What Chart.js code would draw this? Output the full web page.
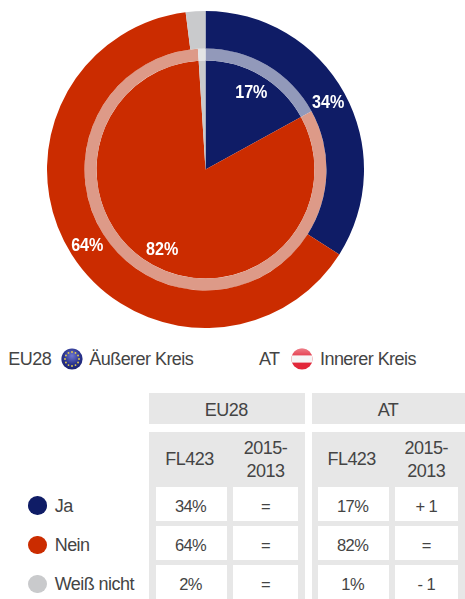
<!DOCTYPE html>
<html lang="de"><head><meta charset="utf-8">
<script src="https://cdn.jsdelivr.net/npm/chart.js@4"></script>
<style>
html,body{margin:0;padding:0;background:#fff}
body{position:relative;width:465px;height:599px;overflow:hidden;font-family:"Liberation Sans",Arial,sans-serif;color:#444;-webkit-font-smoothing:antialiased}
.t{position:absolute;white-space:nowrap;font-size:18px;letter-spacing:-.55px;line-height:22px;transform:translateY(-50%)}
.c{text-align:center;transform:translate(-50%,-50%)}
.b{position:absolute}
.p{background:#e7e7e7}.w{background:#fff}
.v{font-size:16.5px;letter-spacing:-.6px}
#wrap{position:absolute;left:47px;top:11px;width:317px;height:317px}
svg{position:absolute}
</style></head><body>
<div id="wrap"><canvas id="c" width="317" height="317"></canvas></div>
<svg style="left:60px;top:347px" width="24" height="24" viewBox="-12 -12 24 24">
<defs><radialGradient id="eu" cx="50%" cy="35%" r="65%"><stop offset="0" stop-color="#6f78cf"/><stop offset=".6" stop-color="#2a348f"/><stop offset="1" stop-color="#1a2270"/></radialGradient>
<linearGradient id="gl" x1="0" y1="0" x2="0" y2="1"><stop offset="0" stop-color="#fff" stop-opacity=".45"/><stop offset=".5" stop-color="#fff" stop-opacity="0"/></linearGradient></defs>
<circle r="10.6" fill="url(#eu)"/><g id="stars" fill="#e8d04a"></g></svg>
<svg style="left:290px;top:347px" width="24" height="24" viewBox="-12 -12 24 24">
<defs><clipPath id="cp"><circle r="10.6"/></clipPath></defs>
<g clip-path="url(#cp)"><rect x="-12" y="-12" width="24" height="24" fill="#e2283a"/><rect x="-12" y="-3.6" width="24" height="7.2" fill="#f6f6f6"/><rect x="-12" y="-12" width="24" height="24" fill="url(#gl)"/></g></svg>
<script>
const categories = ['Ja', 'Nein', 'Weiß nicht'];
const colors = ['#0f1c66', '#cb2c00', '#c9cacc'];
const ringColors = ['#9299ba', '#dd9a88', '#e3e4e5'];
const eu28Values = [34, 64, 2];
const atValues = [17, 82, 1];
const eu28Trend = ['=', '=', '='];
const atTrend = ['+ 1', '=', '- 1'];

function add(cls, style, html) {
  const d = document.createElement('div');
  d.className = cls;
  Object.assign(d.style, style);
  d.innerHTML = html || '';
  document.body.appendChild(d);
  return d;
}
const px = n => n + 'px';
const box = (cls, x0, y0, x1, y1) => add('b ' + cls, {left: px(x0), top: px(y0), width: px(x1 - x0), height: px(y1 - y0)});
const text = (s, x, y, center, extra) => add('t ' + (center ? 'c ' : '') + (extra || ''), {left: px(x), top: px(y)}, s);

// top legend
text('EU28', 8.3, 359); text('Äußerer Kreis', 89.3, 359);
text('AT', 259, 359); text('Innerer Kreis', 320, 359);

// stars of the EU flag
const g = document.getElementById('stars');
for (let i = 0; i < 12; i++) {
  const a = i * Math.PI / 6;
  const s = document.createElementNS('http://www.w3.org/2000/svg', 'circle');
  s.setAttribute('cx', 7 * Math.cos(a)); s.setAttribute('cy', 7 * Math.sin(a)); s.setAttribute('r', .9);
  g.appendChild(s);
}

// table
const groups = [
  {name: 'EU28', x0: 149, x1: 304.5, cols: [[156, 227], [233, 298]], vals: eu28Values, trend: eu28Trend},
  {name: 'AT', x0: 312, x1: 465, cols: [[318.3, 389], [395, 457.5]], vals: atValues, trend: atTrend}
];
const rows = [[486.7, 520.7], [525.7, 560], [565, 599]];
groups.forEach(G => {
  box('p', G.x0, 392.7, G.x1, 424);
  box('p', G.x0, 432, G.x1, 599);
  text(G.name, (G.x0 + G.x1) / 2 - .5, 409.5, true);
  const [a, b] = G.cols;
  text('FL423', (a[0] + a[1]) / 2 - 2, 458.5, true);
  text('2015-', (b[0] + b[1]) / 2, 448, true);
  text('2013', (b[0] + b[1]) / 2, 470.5, true);
  rows.forEach((r, i) => {
    box('w', a[0], r[0], a[1], r[1]);
    box('w', b[0], r[0], b[1], r[1]);
    text(G.vals[i] + '%', (a[0] + a[1]) / 2 - 1, (r[0] + r[1]) / 2 + 2, true, 'v');
    text(G.trend[i], (b[0] + b[1]) / 2, (r[0] + r[1]) / 2 + 2, true, 'v');
  });
});
categories.forEach((c, i) => {
  const y = (rows[i][0] + rows[i][1]) / 2 + 2;
  add('b', {left: '28px', top: px(y - 9.3), width: '18.6px', height: '18.6px', borderRadius: '50%', background: colors[i]});
  text(c, 54.7, y);
});

// slice labels
const labelPlugin = {
  id: 'sliceLabels',
  afterDatasetsDraw(chart) {
    const ctx = chart.ctx;
    ctx.save();
    ctx.fillStyle = '#fff';
    ctx.font = 'bold 19px "Liberation Sans", Arial, sans-serif';
    ctx.textAlign = 'center';
    ctx.textBaseline = 'middle';
    [[0, 140], [2, 90]].forEach(([ds, radius]) => {
      chart.getDatasetMeta(ds).data.forEach((arc, i) => {
        const v = chart.data.datasets[ds].data[i];
        if (v < 5) return;
        const mid = (arc.startAngle + arc.endAngle) / 2;
        ctx.save();
        ctx.translate(arc.x + Math.cos(mid) * radius, arc.y + Math.sin(mid) * radius + 1);
        ctx.scale(.85, 1);
        ctx.fillText(v + '%', 0, 0);
        ctx.restore();
      });
    });
    ctx.restore();
  }
};

new Chart(document.getElementById('c'), {
  type: 'doughnut',
  data: {
    labels: categories,
    datasets: [
      {label: 'EU28', data: eu28Values, backgroundColor: colors, weight: 37.5, borderWidth: 0},
      {label: 'AT ring', data: atValues, backgroundColor: ringColors, weight: 12, borderWidth: 0},
      {label: 'AT', data: atValues, backgroundColor: colors, weight: 109, borderWidth: 0}
    ]
  },
  options: {
    responsive: false, animation: false, cutout: 0,
    events: [],
    layout: {padding: 0},
    plugins: {legend: {display: false}, tooltip: {enabled: false}}
  },
  plugins: [labelPlugin]
});
</script>
</body></html>
